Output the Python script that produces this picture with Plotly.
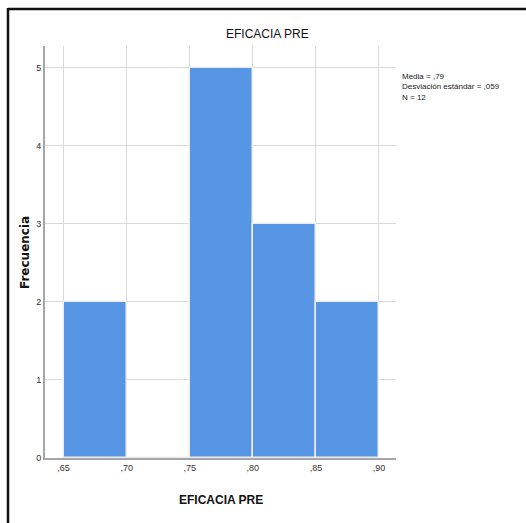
import plotly.graph_objects as go

bin_left = [0.65, 0.70, 0.75, 0.80, 0.85]
counts = [2, 0, 5, 3, 2]
bin_width = 0.05
x_ticks = [0.65, 0.70, 0.75, 0.80, 0.85, 0.90]
x_tick_labels = [",65", ",70", ",75", ",80", ",85", ",90"]
y_ticks = [0, 1, 2, 3, 4, 5]
stats_text = "Media = ,79<br>Desviación estándar = ,059<br>N = 12"
title_text = "EFICACIA PRE"
x_title = "EFICACIA PRE"
y_title = "Frecuencia"

FONT = "Liberation Sans, Arial, sans-serif"

centers = [b + bin_width / 2 for b in bin_left]

fig = go.Figure()
fig.add_trace(go.Bar(
    x=centers, y=counts, width=[bin_width] * len(centers),
    marker=dict(color="#5796E4", line=dict(color="#eeeeee", width=1.5)),
    showlegend=False,
))

L, R, T, B = 45, 130, 46, 65
W, H = 526, 523
pw, ph = W - L - R, H - T - B

def px(xp):
    return (xp - L) / pw

def py(yp):
    return (H - B - yp) / ph

fig.update_layout(
    width=W, height=H,
    margin=dict(l=L, r=R, t=T, b=B),
    paper_bgcolor="white", plot_bgcolor="white",
    font=dict(family=FONT, color="#222222"),
    bargap=0,
    xaxis=dict(range=[0.6353, 0.9135], tickvals=x_ticks, ticktext=x_tick_labels,
               showgrid=True, gridcolor="#d9d9d9", gridwidth=1,
               showline=True, linecolor="#a6a6a6", linewidth=2,
               zeroline=False, ticks="", tickfont=dict(size=9, color="#333333")),
    yaxis=dict(range=[0, 5.28], tickvals=y_ticks,
               showgrid=True, gridcolor="#d9d9d9", gridwidth=1,
               showline=True, linecolor="#a6a6a6", linewidth=2,
               zeroline=False, ticks="", tickfont=dict(size=9, color="#333333")),
    annotations=[
        dict(text=title_text, xref="paper", yref="paper",
             x=px(267), y=py(34), xanchor="center", yanchor="middle",
             showarrow=False, font=dict(size=12, family=FONT, color="#111111")),
        dict(text="<b>" + x_title + "</b>", xref="paper", yref="paper",
             x=px(221), y=py(500), xanchor="center", yanchor="middle",
             showarrow=False, font=dict(size=12, family=FONT, color="#111111")),
        dict(text="<b>" + y_title + "</b>", xref="paper", yref="paper",
             x=px(25), y=py(253), xanchor="center", yanchor="middle",
             textangle=-90, showarrow=False,
             font=dict(size=12, family="DejaVu Sans, sans-serif", color="#111111")),
        dict(text=stats_text, xref="paper", yref="paper",
             x=px(400), y=py(70), xanchor="left", yanchor="top",
             align="left", showarrow=False,
             font=dict(size=8, family=FONT, color="#222222")),
    ],
    shapes=[
        dict(type="line", xref="paper", yref="paper", x0=px(8), x1=px(530),
             y0=py(9), y1=py(9), line=dict(color="#111111", width=2.5)),
        dict(type="line", xref="paper", yref="paper", x0=px(8), x1=px(8),
             y0=py(8), y1=py(530), line=dict(color="#111111", width=2.5)),
    ],
)

fig.write_html("out.html")
